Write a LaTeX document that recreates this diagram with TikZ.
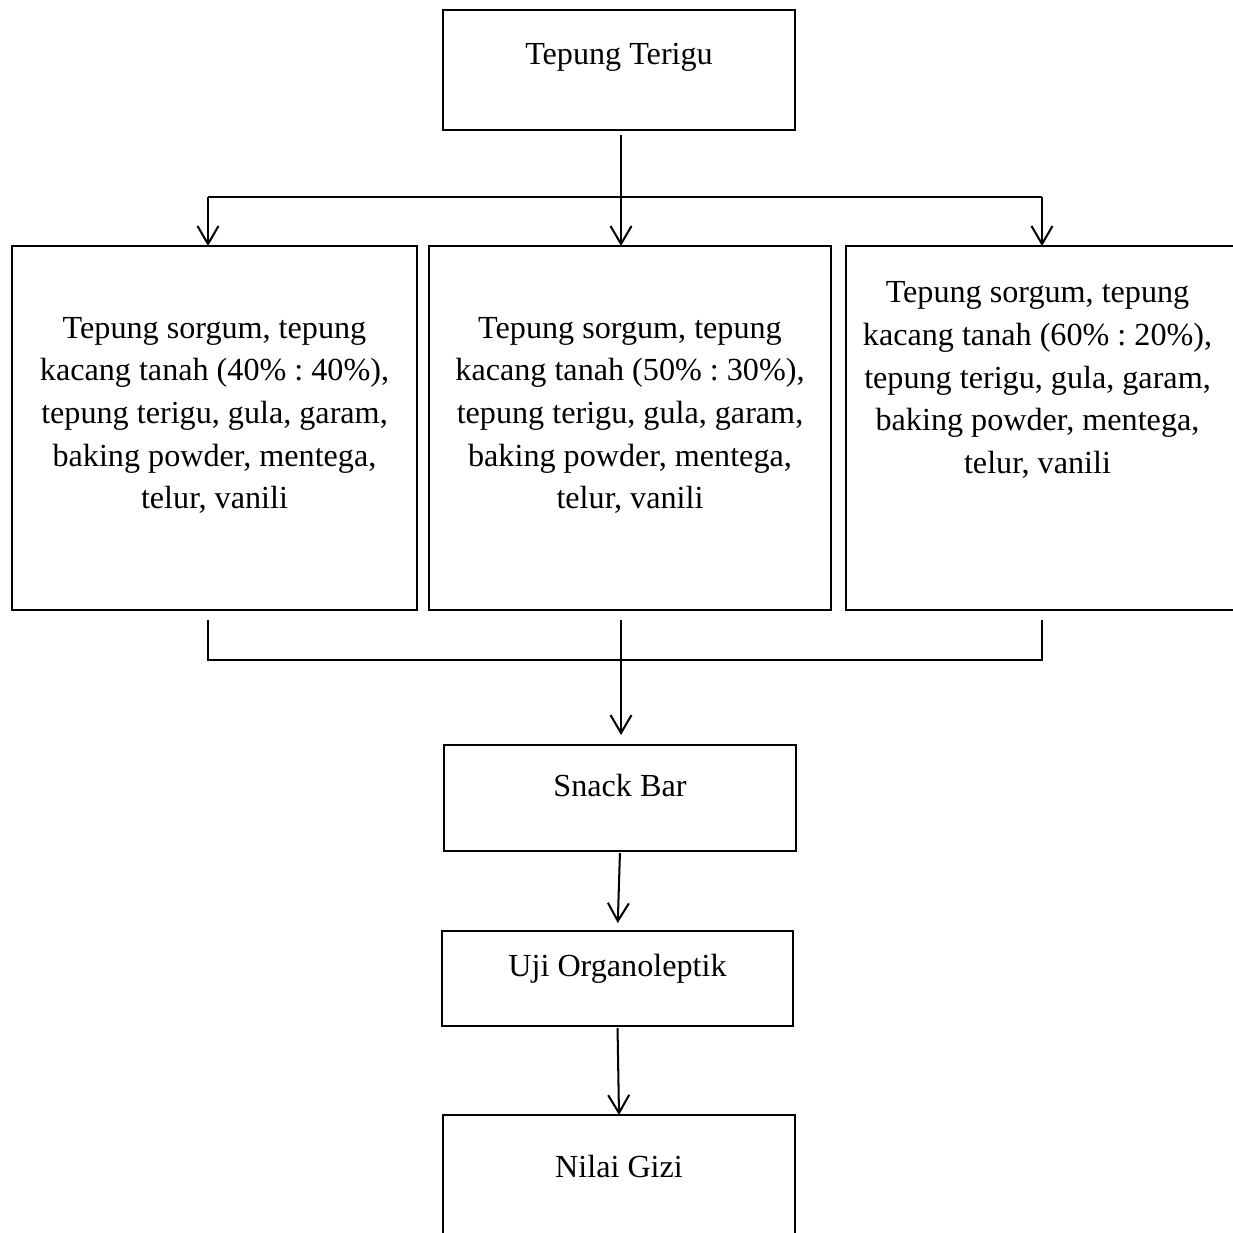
\documentclass[tikz,border=0pt]{standalone}
\usepackage{fontspec}
\setmainfont{Liberation Serif}
\usetikzlibrary{calc}
\usetikzlibrary{arrows.meta}
\frenchspacing
\tikzset{
  box/.style={draw,line width=1.15pt,inner sep=0pt,outer sep=0pt},
  txt/.style={font=\fontsize{18.3}{24.3}\selectfont,align=center,inner sep=0pt},
  arr/.style={line width=1.15pt,-{Straight Barb[length=0.36cm,width=0.42cm,line width=1.15pt]}}
}

\begin{document}
\begin{tikzpicture}

\useasboundingbox (0,0) rectangle (24.66,-24.64);

% boxes
\node[box,minimum width=7.04cm,minimum height=2.4cm] (terigu) at (12.38,-1.4) {};
\node[box,minimum width=8.1cm,minimum height=7.28cm] (mixA) at (4.29,-8.56) {};
\node[box,minimum width=8.04cm,minimum height=7.28cm] (mixB) at (12.6,-8.56) {};
\node[box,minimum width=7.76cm,minimum height=7.28cm] (mixC) at (20.8,-8.56) {};
\node[box,minimum width=7.04cm,minimum height=2.12cm] (snack) at (12.4,-15.96) {};
\node[box,minimum width=7.02cm,minimum height=1.9cm] (uji) at (12.35,-19.57) {};
\node[box,minimum width=7.04cm,minimum height=2.4cm] (gizi) at (12.38,-23.5) {};

% texts
\node[txt] (terigutext) at ($(terigu.north)+(0,-0.95)$) {Tepung Terigu};
\node[txt] (mixAtext) at ($(mixA.north)+(0,-3.39)$) {Tepung sorgum, tepung\\kacang tanah (40\% : 40\%),\\tepung terigu, gula, garam,\\baking powder, mentega,\\telur, vanili};
\node[txt] (mixBtext) at ($(mixB.north)+(0,-3.39)$) {Tepung sorgum, tepung\\kacang tanah (50\% : 30\%),\\tepung terigu, gula, garam,\\baking powder, mentega,\\telur, vanili};
\node[txt] (mixCtext) at ($(mixC.north)+(-0.05,-2.68)$) {Tepung sorgum, tepung\\kacang tanah (60\% : 20\%),\\tepung terigu, gula, garam,\\baking powder, mentega,\\telur, vanili};
\node[txt] (snacktext) at ($(snack.north)+(0,-0.8)$) {Snack Bar};
\node[txt] (ujitext) at ($(uji.north)+(0,-0.76)$) {Uji Organoleptik};
\node[txt] (gizitext) at ($(gizi.north)+(0,-1.02)$) {Nilai Gizi};

% split and join points
\coordinate (split) at (12.42,-3.94);
\coordinate (splitA) at (4.16,-3.94);
\coordinate (splitC) at (20.84,-3.94);
\coordinate (join) at (12.42,-13.2);
\coordinate (joinA) at (4.16,-13.2);
\coordinate (joinC) at (20.84,-13.2);

% connectors
\draw[arr,shorten <=0.1cm] (terigu.south -| split) -- (split |- mixB.north);
\draw[line width=1.15pt] (splitA) -- (splitC);
\draw[arr] (splitA) -- (splitA |- mixA.north);
\draw[arr] (splitC) -- (splitC |- mixC.north);

\draw[line width=1.15pt,shorten <=0.2cm,shorten >=0.2cm] (joinA |- mixA.south) -- (joinA) -- (joinC) -- (joinC |- mixC.south);
\draw[arr,shorten <=0.2cm,shorten >=0.2cm] (join |- mixB.south) -- (join |- snack.north);
\draw[arr,shorten <=0.04cm,shorten >=0.16cm] (snack.south) -- (uji.north);
\draw[arr,shorten <=0.04cm] (uji.south) -- (gizi.north);

\end{tikzpicture}
\end{document}
